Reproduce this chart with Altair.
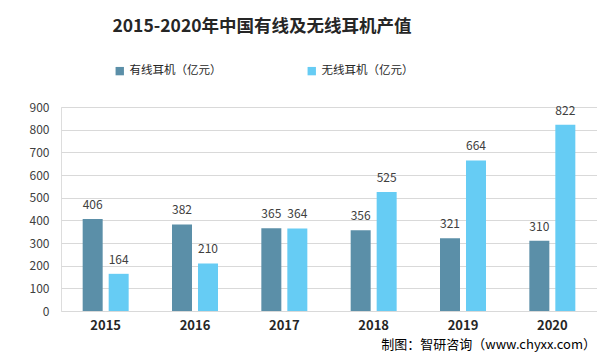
import altair as alt
import pandas as pd

years = ["2015", "2016", "2017", "2018", "2019", "2020"]
series_names = ["有线耳机（亿元）", "无线耳机（亿元）"]
wired = [406, 382, 365, 356, 321, 310]
wireless = [164, 210, 364, 525, 664, 822]
colors = ["#5B8FA8", "#66CCF4"]
y_ticks = [0, 100, 200, 300, 400, 500, 600, 700, 800, 900]
title_text = "2015-2020年中国有线及无线耳机产值"
footer_text = "制图：智研咨询（www.chyxx.com）"

rows = []
for i, y in enumerate(years):
    rows.append({"year": y, "series": series_names[0], "value": wired[i]})
    rows.append({"year": y, "series": series_names[1], "value": wireless[i]})
df = pd.DataFrame(rows)

FONT = "Noto Sans CJK SC"

x_enc = alt.X("year:N", sort=years, title=None,
              scale=alt.Scale(paddingInner=0.485, paddingOuter=0.2425),
              axis=alt.Axis(labelAngle=0, labelFontWeight="bold", labelFontSize=13,
                            labelColor="#262626", labelPadding=8, ticks=False,
                            domain=False, grid=False, labelFont=FONT))
xoff = alt.XOffset("series:N", sort=series_names,
                   scale=alt.Scale(paddingInner=0.23, paddingOuter=0))
y_enc = alt.Y("value:Q", title=None,
              scale=alt.Scale(domain=[0, 900], nice=False),
              axis=alt.Axis(values=y_ticks, tickCount=10, labelOverlap=False,
                            ticks=False, domain=False,
                            labelFontSize=12, labelColor="#404040", labelPadding=12,
                            gridColor="#D9D9D9", gridWidth=1, labelFont=FONT))

bars = alt.Chart(df).mark_bar(size=20).encode(
    x=x_enc,
    xOffset=xoff,
    y=y_enc,
    color=alt.Color("series:N", sort=series_names,
                    scale=alt.Scale(domain=series_names, range=colors),
                    legend=alt.Legend(title=None, orient="none", legendX=53, legendY=-42,
                                      direction="horizontal", columns=2, columnPadding=84,
                                      symbolType="square", symbolSize=70, labelFontSize=11.5,
                                      labelColor="#262626", labelFont=FONT, labelOffset=4,
                                      symbolStrokeWidth=0)),
)

labels = alt.Chart(df).mark_text(baseline="middle", dy=-14, fontSize=12,
                                 color="#404040", font=FONT).encode(
    x=alt.X("year:N", sort=years),
    xOffset=xoff,
    y="value:Q",
    text="value:Q",
)

title_df = pd.DataFrame({"t": [title_text]})
title = alt.Chart(title_df).mark_text(fontSize=17.5, fontWeight="bold", font=FONT,
                                      color="#262626", align="center", baseline="middle").encode(
    text="t:N", x=alt.value(201), y=alt.value(-80))

footer_df = pd.DataFrame({"t": [footer_text]})
footer = alt.Chart(footer_df).mark_text(fontSize=13, font=FONT, color="#000000",
                                        align="right", baseline="middle").encode(
    text="t:N", x=alt.value(535), y=alt.value(238))

chart = alt.layer(bars, labels, title, footer).properties(
    width=536, height=204,
    autosize=alt.AutoSizeParams(type="none"),
    padding={"left": 53, "top": 99, "right": 0, "bottom": 45},
).configure_view(stroke=None).configure(background="white")

chart.save("out.html", embed_options={"renderer": "svg", "actions": False})
